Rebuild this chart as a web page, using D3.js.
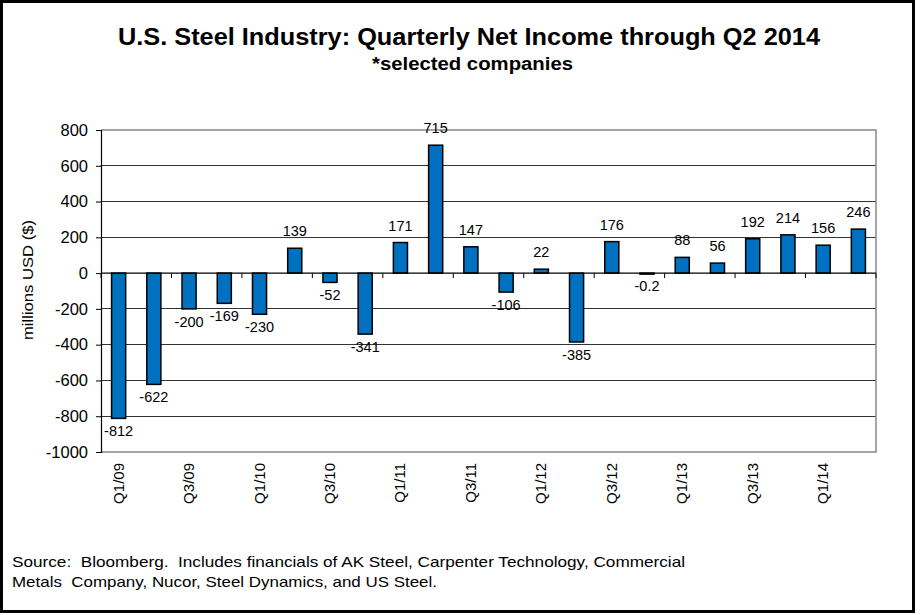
<!DOCTYPE html>
<html><head><meta charset="utf-8">
<script src="https://cdn.jsdelivr.net/npm/d3@7"></script>
<style>
body{margin:0;background:#fff;}
text{font-family:Arial,"Liberation Sans",sans-serif;}
</style></head>
<body><svg id="c" width="921" height="615"></svg>
<script>
const categories = ["Q1/09","Q2/09","Q3/09","Q4/09","Q1/10","Q2/10","Q3/10","Q4/10","Q1/11","Q2/11","Q3/11","Q4/11","Q1/12","Q2/12","Q3/12","Q4/12","Q1/13","Q2/13","Q3/13","Q4/13","Q1/14","Q2/14"];
const netIncome = [-812,-622,-200,-169,-230,139,-52,-341,171,715,147,-106,22,-385,176,-0.2,88,56,192,214,156,246];
const valueLabels = ["-812","-622","-200","-169","-230","139","-52","-341","171","715","147","-106","22","-385","176","-0.2","88","56","192","214","156","246"];
const yTicks = [-1000,-800,-600,-400,-200,0,200,400,600,800];
const title = "U.S. Steel Industry: Quarterly Net Income through Q2 2014";
const subtitle = "*selected companies";
const yLabel = "millions USD ($)";
const sourceLines = ["Source:  Bloomberg.  Includes financials of AK Steel, Carpenter Technology, Commercial","Metals  Company, Nucor, Steel Dynamics, and US Steel."];

const svg = d3.select("#c");
const L=101, R=876, T=130, B=452;

svg.append("rect").attr("x",0).attr("y",0).attr("width",921).attr("height",615).attr("fill","#fff");
svg.append("rect").attr("x",1.5).attr("y",1.5).attr("width",912).attr("height",610)
  .attr("fill","none").attr("stroke","#000").attr("stroke-width",3);

svg.append("text").attr("x",118).attr("y",45)
  .attr("font-size",23.5).attr("font-weight","bold")
  .attr("textLength",702).attr("lengthAdjust","spacingAndGlyphs").text(title);
svg.append("text").attr("x",372).attr("y",70)
  .attr("font-size",18).attr("font-weight","bold")
  .attr("textLength",201).attr("lengthAdjust","spacingAndGlyphs").text(subtitle);

const x = d3.scaleBand().domain(categories).range([L,R]).paddingInner(0.6).paddingOuter(0.3);
const y = d3.scaleLinear().domain([-1000,800]).range([B,T]);

// gridlines
svg.append("g").selectAll("line").data(yTicks.filter(v=>v!==0 && v!==800 && v!==-1000)).join("line")
  .attr("x1",L).attr("x2",R).attr("y1",d=>y(d)).attr("y2",d=>y(d))
  .attr("stroke","#333").attr("stroke-width",1).attr("shape-rendering","crispEdges");
// frame
svg.append("path").attr("d",`M${L},${T}H${R}V${B}H${L}`).attr("fill","none")
  .attr("stroke","#888").attr("stroke-width",1.5);

// y axis
const yAxis = d3.axisLeft(y).tickValues(yTicks).tickSize(5).tickPadding(8).tickFormat(d=>String(d));
const gy = svg.append("g").attr("transform",`translate(${L},0)`).call(yAxis);
gy.select(".domain").attr("stroke","#000").attr("stroke-width",1.2);
gy.selectAll(".tick line").attr("stroke","#000");
gy.selectAll("text").attr("font-size",16.5).attr("fill","#000").attr("font-family","Arial, 'Liberation Sans', sans-serif");

svg.append("text").attr("transform",`translate(33,280) rotate(-90)`).attr("text-anchor","middle")
  .attr("font-size",15).attr("textLength",120).attr("lengthAdjust","spacingAndGlyphs").text(yLabel);

// bars
svg.append("g").selectAll("rect").data(netIncome).join("rect")
  .attr("x",(d,i)=>x(categories[i]))
  .attr("width",x.bandwidth())
  .attr("y",d=>y(Math.max(0,d)))
  .attr("height",d=>Math.max(1,Math.abs(y(d)-y(0))))
  .attr("fill","#0070C0").attr("stroke","#000").attr("stroke-width",1.5);

// zero axis
svg.append("line").attr("x1",L).attr("x2",R).attr("y1",y(0)).attr("y2",y(0)).attr("stroke","#000").attr("stroke-width",1.2);
const bounds = d3.range(0,23,2).map(k=>L + (R-L)*k/22);
svg.append("g").selectAll("line").data(bounds).join("line")
  .attr("x1",d=>d).attr("x2",d=>d).attr("y1",y(0)).attr("y2",y(0)+5).attr("stroke","#000");

// value labels
svg.append("g").selectAll("text").data(netIncome).join("text")
  .attr("x",(d,i)=>x(categories[i])+x.bandwidth()/2)
  .attr("y",d=> d>=0 ? y(d)-12 : y(d)+18)
  .attr("text-anchor","middle").attr("font-size",14.5)
  .text((d,i)=>valueLabels[i]);

// x labels
svg.append("g").selectAll("text").data(categories.filter((c,i)=>i%2===0)).join("text")
  .attr("transform",d=>`translate(${x(d)+x.bandwidth()/2+5},463) rotate(-90)`)
  .attr("text-anchor","end").attr("font-size",15).text(d=>d);

// source
const srcEnds = [685, 437];
svg.append("g").selectAll("text").data(sourceLines).join("text")
  .attr("x",12).attr("y",(d,i)=>567+i*19.5).attr("font-size",15)
  .attr("textLength",(d,i)=>srcEnds[i]-12).attr("lengthAdjust","spacingAndGlyphs")
  .style("white-space","pre").text(d=>d);
</script></body></html>
